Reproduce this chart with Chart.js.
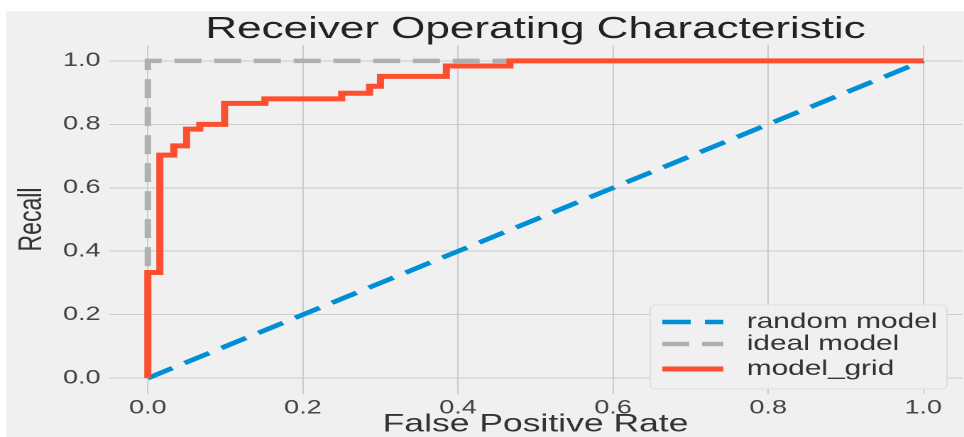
<!DOCTYPE html>
<html>
<head>
<meta charset="utf-8">
<script src="https://cdn.jsdelivr.net/npm/chart.js@4/dist/chart.umd.min.js"></script>
<style>
  html, body { margin: 0; padding: 0; background: #ffffff; overflow: hidden; }
  /* the figure is drawn narrow and widened horizontally */
  #stage { position: absolute; left: 0; top: 0; width: 679px; height: 437px;
           transform: scaleX(1.41973); transform-origin: 0 0; }
</style>
</head>
<body>
<div id="stage"><canvas id="roc" width="679" height="437"></canvas></div>
<script>
// ROC curve of the grid-searched model (step corners)
const fprGrid = [0, 0, 0.0155, 0.0155, 0.0335, 0.0335, 0.05, 0.05, 0.067, 0.067, 0.099, 0.099,
                 0.151, 0.151, 0.25, 0.25, 0.286, 0.286, 0.30, 0.30, 0.385, 0.385, 0.467, 0.467, 1.0];
const tprGrid = [0, 0.333, 0.333, 0.703, 0.703, 0.732, 0.732, 0.785, 0.785, 0.80, 0.80, 0.866,
                 0.866, 0.88, 0.88, 0.898, 0.898, 0.92, 0.92, 0.951, 0.951, 0.984, 0.984, 1.0, 1.0];
// reference curves
const fprRandom = [0, 1];
const tprRandom = [0, 1];
const fprIdeal = [0, 0, 1];
const tprIdeal = [0, 1, 1];
// axes
const xTickValues = [0, 0.2, 0.4, 0.6, 0.8, 1.0];
const yTickValues = [0, 0.2, 0.4, 0.6, 0.8, 1.0];
const seriesLabels = ['random model', 'ideal model', 'model_grid'];

const STRETCH = 964 / 679;
const FONT = '"Liberation Sans", Arial, Helvetica, sans-serif';

const toPoints = (xs, ys) => xs.map((x, i) => ({ x: x, y: ys[i] }));

// light grey figure background with a thin white margin at top/left
const figureBackground = {
  id: 'figureBackground',
  beforeDraw(chart) {
    const ctx = chart.ctx;
    ctx.save();
    ctx.fillStyle = '#f0f0f0';
    ctx.fillRect(6 / STRETCH, 11, chart.width, chart.height);
    ctx.restore();
  }
};

// legend box in the lower right corner of the plot area
const insideLegend = {
  id: 'insideLegend',
  afterDatasetsDraw(chart) {
    const ctx = chart.ctx;
    const area = chart.chartArea;
    const w = 209, h = 84;
    const x0 = area.right - 10.6 - w;
    const y0 = area.bottom - 5 - h;
    ctx.save();
    ctx.beginPath();
    ctx.roundRect(x0, y0, w, h, 4);
    ctx.fillStyle = 'rgba(240,240,240,0.93)';
    ctx.fill();
    ctx.strokeStyle = '#dedede';
    ctx.lineWidth = 1;
    ctx.stroke();
    const rows = [17, 39, 64];
    chart.data.datasets.forEach((ds, i) => {
      const y = y0 + rows[i];
      ctx.beginPath();
      ctx.setLineDash(ds.borderDash || []);
      ctx.lineCap = 'butt';
      ctx.strokeStyle = ds.borderColor;
      ctx.lineWidth = ds.borderWidth;
      ctx.moveTo(x0 + 8.5, y);
      ctx.lineTo(x0 + 51.5, y);
      ctx.stroke();
      ctx.setLineDash([]);
      ctx.fillStyle = '#333333';
      ctx.font = '21px ' + FONT;
      ctx.textBaseline = 'middle';
      ctx.textAlign = 'left';
      ctx.fillText(ds.label, x0 + 68, y);
    });
    ctx.restore();
  }
};

const gridStyle = { color: '#cbcbcb', lineWidth: 1, drawTicks: false };

new Chart(document.getElementById('roc'), {
  type: 'line',
  data: {
    datasets: [
      {
        label: seriesLabels[0],
        data: toPoints(fprRandom, tprRandom),
        borderColor: '#008fd5',
        borderWidth: 4.5,
        borderDash: [20, 10],
        pointRadius: 0,
        fill: false,
        order: 3
      },
      {
        label: seriesLabels[1],
        data: toPoints(fprIdeal, tprIdeal),
        borderColor: '#b0b0b0',
        borderWidth: 4.5,
        borderDash: [19, 9],
        pointRadius: 0,
        fill: false,
        order: 2
      },
      {
        label: seriesLabels[2],
        data: toPoints(fprGrid, tprGrid),
        borderColor: '#fc4f30',
        borderWidth: 5,
        borderJoinStyle: 'miter',
        pointRadius: 0,
        fill: false,
        order: 1
      }
    ]
  },
  options: {
    responsive: false,
    devicePixelRatio: 2,
    animation: false,
    layout: { padding: { left: 0, right: 1.4, top: 0, bottom: 0 } },
    plugins: {
      legend: { display: false },
      tooltip: { enabled: false },
      title: {
        display: true,
        fullSize: false,
        text: 'Receiver Operating Characteristic',
        color: '#222222',
        font: { family: FONT, size: 31, weight: 'normal', lineHeight: 1.0 },
        padding: { top: 14, bottom: 0 }
      }
    },
    scales: {
      x: {
        type: 'linear',
        min: -0.05,
        max: 1.05,
        grid: gridStyle,
        border: { display: false },
        afterBuildTicks: (scale) => { scale.ticks = xTickValues.map(v => ({ value: v })); },
        afterFit: (scale) => { scale.height = 43; },
        ticks: {
          padding: 3,
          color: '#444444',
          font: { family: FONT, size: 19 },
          callback: (v) => Number(v).toFixed(1)
        },
        title: {
          display: true,
          text: 'False Positive Rate',
          color: '#333333',
          font: { family: FONT, size: 25, lineHeight: 1.0 },
          padding: { top: 0, bottom: 0 }
        }
      },
      y: {
        type: 'linear',
        min: -0.05,
        max: 1.05,
        grid: gridStyle,
        border: { display: false },
        afterBuildTicks: (scale) => { scale.ticks = yTickValues.map(v => ({ value: v })); },
        afterFit: (scale) => { scale.width = 76.8; },
        ticks: {
          padding: 6,
          color: '#444444',
          font: { family: FONT, size: 19 },
          callback: (v) => Number(v).toFixed(1)
        },
        title: {
          display: true,
          text: 'Recall',
          color: '#333333',
          font: { family: FONT, size: 23, lineHeight: 1.2 },
          padding: { top: 8.7, bottom: 0 }
        }
      }
    }
  },
  plugins: [figureBackground, insideLegend]
});
</script>
</body>
</html>
